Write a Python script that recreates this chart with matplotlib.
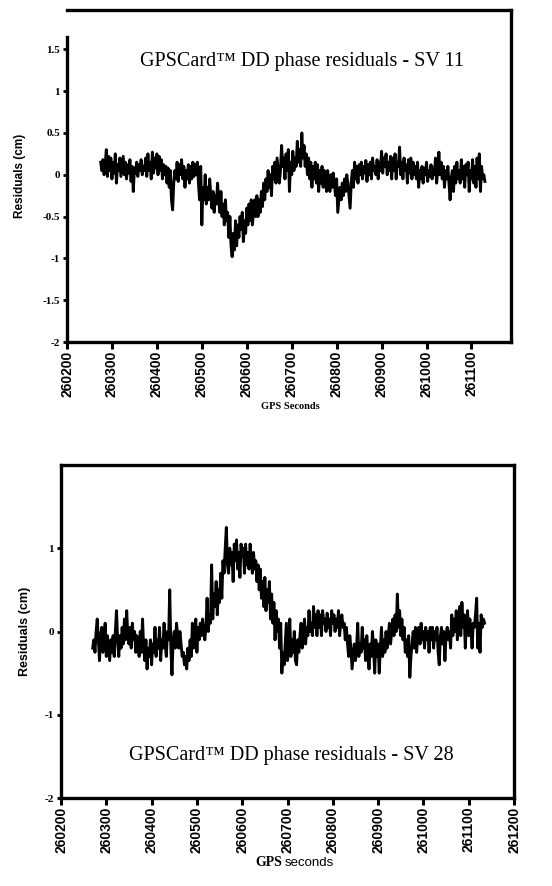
import matplotlib
matplotlib.use("Agg")
import matplotlib.pyplot as plt

# ---------------- data (2.5 s sampling) ----------------
t_start_11 = 260275
resid_sv11 = [
    0.15, 0.05, 0.18, 0.0, 0.12, 0.3, -0.02, 0.22, 0.05, 0.2, -0.05, 0.15, 0.02, 0.25, -0.1, 0.12, 0.05, 0.2, -0.02, 0.1,
    0.22, 0.0, 0.15, -0.05, 0.12, 0.02, 0.18, -0.08, 0.1, -0.2, 0.08, 0.02, 0.15, -0.02, 0.12, 0.05, 0.18, 0.0, 0.1, 0.05,
    0.2, -0.02, 0.25, 0.05, 0.15, -0.05, 0.27, 0.02, 0.2, 0.08, 0.25, 0.0, 0.22, 0.05, 0.18, -0.05, 0.12, 0.0, 0.1, -0.1,
    0.08, -0.15, 0.05, -0.3, -0.42, -0.1, 0.05, -0.05, 0.15, -0.08, 0.12, 0.0, 0.18, -0.05, 0.1, -0.15, 0.05, -0.05, 0.12, -0.1,
    0.1, -0.05, 0.15, -0.02, 0.12, 0.0, 0.15, -0.1, -0.3, 0.1, -0.6, -0.15, -0.3, 0.0, -0.35, -0.15, -0.3, -0.05, -0.25, -0.4,
    -0.2, -0.45, -0.25, -0.35, -0.1, -0.3, -0.45, -0.2, -0.5, -0.35, -0.6, -0.3, -0.55, -0.45, -0.75, -0.5, -0.85, -0.98, -0.7, -0.9,
    -0.55, -0.85, -0.6, -0.75, -0.5, -0.65, -0.45, -0.8, -0.55, -0.7, -0.4, -0.6, -0.35, -0.55, -0.3, -0.6, -0.45, -0.3, -0.5, -0.25,
    -0.5, -0.3, -0.45, -0.2, -0.38, -0.1, -0.3, -0.05, -0.2, 0.05, -0.15, 0.0, -0.25, 0.1, -0.05, 0.15, -0.1, 0.2, 0.05, -0.1,
    0.05, 0.35, 0.1, 0.2, -0.05, 0.25, 0.05, 0.3, -0.2, 0.15, 0.0, 0.28, 0.05, 0.2, 0.1, 0.4, 0.15, 0.3, 0.1, 0.5,
    0.2, 0.35, 0.1, 0.25, 0.0, 0.2, -0.05, 0.15, -0.15, 0.1, -0.05, 0.15, -0.1, 0.12, -0.2, 0.05, -0.1, 0.1, -0.15, 0.05,
    -0.05, -0.2, 0.05, -0.1, -0.2, 0.0, -0.15, 0.02, -0.12, -0.25, -0.05, -0.45, -0.3, -0.15, -0.3, -0.1, -0.25, -0.05, -0.2, 0.0,
    -0.1, -0.25, -0.4, -0.1, 0.05, -0.15, 0.15, -0.05, 0.1, -0.1, 0.12, 0.0, 0.15, -0.05, 0.1, 0.02, 0.17, -0.08, 0.12, 0.0,
    0.15, -0.05, 0.2, 0.05, 0.1, 0.0, 0.18, -0.05, 0.15, 0.05, 0.28, 0.02, 0.2, 0.1, 0.25, 0.0, 0.15, 0.05, 0.22, -0.05,
    0.2, 0.05, 0.25, -0.05, 0.15, 0.1, 0.33, 0.0, 0.15, -0.05, 0.2, 0.05, 0.12, -0.1, 0.18, 0.02, 0.2, -0.05, 0.15, 0.0,
    0.1, -0.05, 0.15, -0.15, 0.05, -0.05, 0.1, -0.1, 0.08, 0.0, 0.15, -0.08, 0.05, -0.02, 0.12, -0.05, 0.08, 0.0, 0.2, -0.1,
    0.05, 0.27, 0.0, 0.15, -0.05, 0.1, -0.15, 0.05, -0.05, 0.1, -0.1, -0.3, -0.05, 0.05, -0.2, 0.1, -0.1, 0.15, -0.05, 0.05,
    -0.1, 0.18, -0.05, 0.1, -0.15, 0.12, 0.0, 0.15, -0.2, 0.05, -0.05, 0.18, -0.1, 0.1, -0.15, 0.2, -0.05, 0.25, -0.2, 0.1,
    -0.05, 0.0, -0.08,
]

t_start_28 = 260270
resid_sv28 = [
    -0.2, -0.1, -0.25, 0.0, 0.15, -0.1, -0.35, -0.05, 0.05, -0.25, -0.1, 0.1, -0.3, -0.05, -0.2, -0.35, -0.1, -0.25, -0.05, -0.3,
    0.0, 0.25, -0.1, -0.3, -0.05, -0.2, 0.05, -0.15, 0.15, -0.1, 0.25, -0.05, -0.15, 0.05, -0.2, 0.1, -0.1, 0.0, -0.25, -0.05,
    -0.15, -0.3, 0.0, -0.25, 0.15, -0.2, -0.35, -0.1, -0.45, -0.2, -0.3, -0.1, -0.4, -0.15, -0.25, 0.05, -0.3, -0.1, -0.2, 0.05,
    -0.35, -0.1, -0.2, 0.1, -0.15, -0.3, 0.0, -0.1, 0.5, -0.2, -0.52, -0.1, 0.0, -0.2, 0.1, -0.05, -0.2, 0.0, -0.15, -0.3,
    -0.25, -0.4, -0.3, -0.45, -0.2, -0.35, -0.1, -0.3, 0.1, -0.2, -0.05, 0.15, -0.25, 0.05, -0.1, 0.1, -0.05, 0.15, 0.0, -0.1,
    0.05, 0.4, 0.0, 0.2, 0.1, 0.8, 0.15, 0.45, 0.3, 0.6, 0.2, 0.5, 0.35, 0.7, 0.4, 0.85, 0.7, 1.0, 1.25, 0.8,
    0.7, 1.0, 0.8, 0.95, 0.6, 1.05, 0.85, 1.1, 0.75, 0.95, 0.65, 1.05, 0.9, 1.0, 0.7, 1.05, 0.8, 0.95, 0.75, 1.05,
    0.85, 0.7, 0.95, 0.75, 0.85, 0.6, 0.8, 0.5, 0.75, 0.4, 0.6, 0.3, 0.65, 0.25, 0.5, 0.35, 0.6, 0.15, 0.45, 0.1,
    0.35, -0.1, 0.25, 0.0, 0.15, -0.2, 0.1, -0.5, -0.25, -0.4, -0.15, 0.1, -0.35, -0.2, 0.15, -0.3, -0.1, -0.25, 0.0, -0.35,
    -0.4, -0.1, -0.25, -0.05, 0.1, -0.2, -0.1, 0.15, -0.15, 0.05, -0.05, 0.25, 0.0, 0.1, -0.05, 0.3, 0.05, 0.2, -0.05, 0.25,
    0.05, 0.2, -0.05, 0.25, 0.1, 0.15, 0.0, 0.22, 0.05, 0.15, -0.05, 0.25, 0.1, 0.2, 0.0, 0.15, 0.05, 0.25, -0.05, 0.1,
    0.2, 0.05, 0.1, -0.1, 0.05, -0.15, -0.3, -0.05, -0.2, -0.45, -0.3, -0.15, -0.35, -0.2, 0.1, -0.3, -0.15, -0.25, 0.05, -0.2,
    -0.1, -0.35, -0.05, -0.25, -0.45, -0.15, -0.3, 0.0, -0.2, -0.5, -0.1, -0.3, -0.15, -0.5, -0.2, 0.05, -0.3, -0.1, -0.25, 0.0,
    -0.2, -0.05, 0.1, -0.15, 0.0, 0.15, -0.05, 0.2, 0.0, 0.45, 0.05, 0.25, -0.05, 0.15, -0.1, 0.05, -0.25, -0.1, -0.3, -0.05,
    -0.55, -0.3, -0.15, 0.0, -0.2, 0.05, -0.25, -0.05, 0.05, -0.15, 0.1, -0.1, 0.0, -0.2, 0.05, -0.1, 0.0, -0.25, 0.05, -0.1,
    0.05, -0.2, 0.0, -0.1, 0.05, -0.25, -0.4, -0.05, 0.05, -0.15, 0.0, -0.35, -0.05, 0.05, -0.1, 0.0, -0.2, 0.2, -0.05, 0.15,
    0.0, 0.25, -0.1, 0.1, 0.3, -0.05, 0.35, 0.05, 0.2, -0.2, 0.1, 0.25, -0.05, 0.15, 0.0, -0.2, 0.1, 0.05, 0.2, 0.4,
    -0.2, 0.1, -0.25, 0.2, 0.05, 0.15, 0.1,
]
step_s = 2.5

xticks_top = [260200, 260300, 260400, 260500, 260600, 260700, 260800, 260900, 261000, 261100]
xticks_bot = xticks_top + [261200]
yticks_top = [-2, -1.5, -1, -0.5, 0, 0.5, 1, 1.5]
ylabels_top = ["-2", "-1.5", "-1", "-0.5", "0", "0.5", "1", "1.5"]
yticks_bot = [-2, -1, 0, 1]
ylabels_bot = ["-2", "-1", "0", "1"]

title_11 = "GPSCard\u2122 DD phase residuals - SV 11"
title_28 = "GPSCard\u2122 DD phase residuals - SV 28"

# ---------------- drawing ----------------
SANS_N = ["Liberation Sans Narrow", "Liberation Sans", "DejaVu Sans"]
SERIF = ["Liberation Serif", "DejaVu Serif"]

W, H = 552, 886
fig = plt.figure(figsize=(W / 100, H / 100), dpi=100)

def frac(l, t, r, b):
    return [l / W, 1 - b / H, (r - l) / W, (b - t) / H]

ax1 = fig.add_axes(frac(67, 10, 511, 342))
ax2 = fig.add_axes(frac(61, 465, 514, 798))

def style(ax, xt, yt, yl, xlim, ylim):
    ax.set_xlim(*xlim)
    ax.set_ylim(*ylim)
    for s in ax.spines.values():
        s.set_linewidth(2.4)
        s.set_color("black")
    ax.set_xticks(xt)
    ax.set_xticklabels([str(v) for v in xt], rotation=90,
                       fontfamily=SANS_N, fontweight="bold", fontsize=10)
    ax.set_yticks(yt)
    ax.set_yticklabels(yl, fontfamily=SERIF, fontweight="bold", fontsize=8)
    ax.tick_params(axis="x", direction="out", length=5, width=2.2, pad=1)
    ax.tick_params(axis="y", direction="out", length=3, width=2, pad=2)

t11 = [t_start_11 + i * step_s for i in range(len(resid_sv11))]
t28 = [t_start_28 + i * step_s for i in range(len(resid_sv28))]

ax1.plot(t11, resid_sv11, color="black", lw=2.1)
style(ax1, xticks_top, yticks_top, ylabels_top, (260200, 261188), (-2, 1.97))
ax1.spines["left"].set_bounds(-2, 1.65)
ax1.text(260724, 1.36, title_11, fontfamily=SERIF, fontsize=14.5,
         ha="center", va="center")
ax1.set_ylabel("Residuals (cm)", fontfamily=SANS_N, fontweight="bold",
               fontsize=8.5, labelpad=12)
fig.text(290 / W, 1 - 407 / H, "GPS Seconds", fontfamily=SERIF,
         fontweight="bold", fontsize=7.5, ha="center", va="center")

ax2.plot(t28, resid_sv28, color="black", lw=2.1)
style(ax2, xticks_bot, yticks_bot, ylabels_bot, (260200, 261200), (-2, 2))
ax2.text(260708, -1.49, title_28, fontfamily=SERIF, fontsize=14.5,
         ha="center", va="center")
ax2.set_ylabel("Residuals (cm)", fontfamily=SANS_N, fontweight="bold",
               fontsize=9, labelpad=10)
fig.text(282 / W, 1 - 863 / H, "GPS", fontfamily=SERIF, fontweight="bold",
         fontsize=10, ha="right", va="center")
fig.text(285 / W, 1 - 863 / H, "seconds", fontfamily=SANS_N,
         fontsize=9.5, ha="left", va="center")

fig.savefig("out.png", dpi=100)
